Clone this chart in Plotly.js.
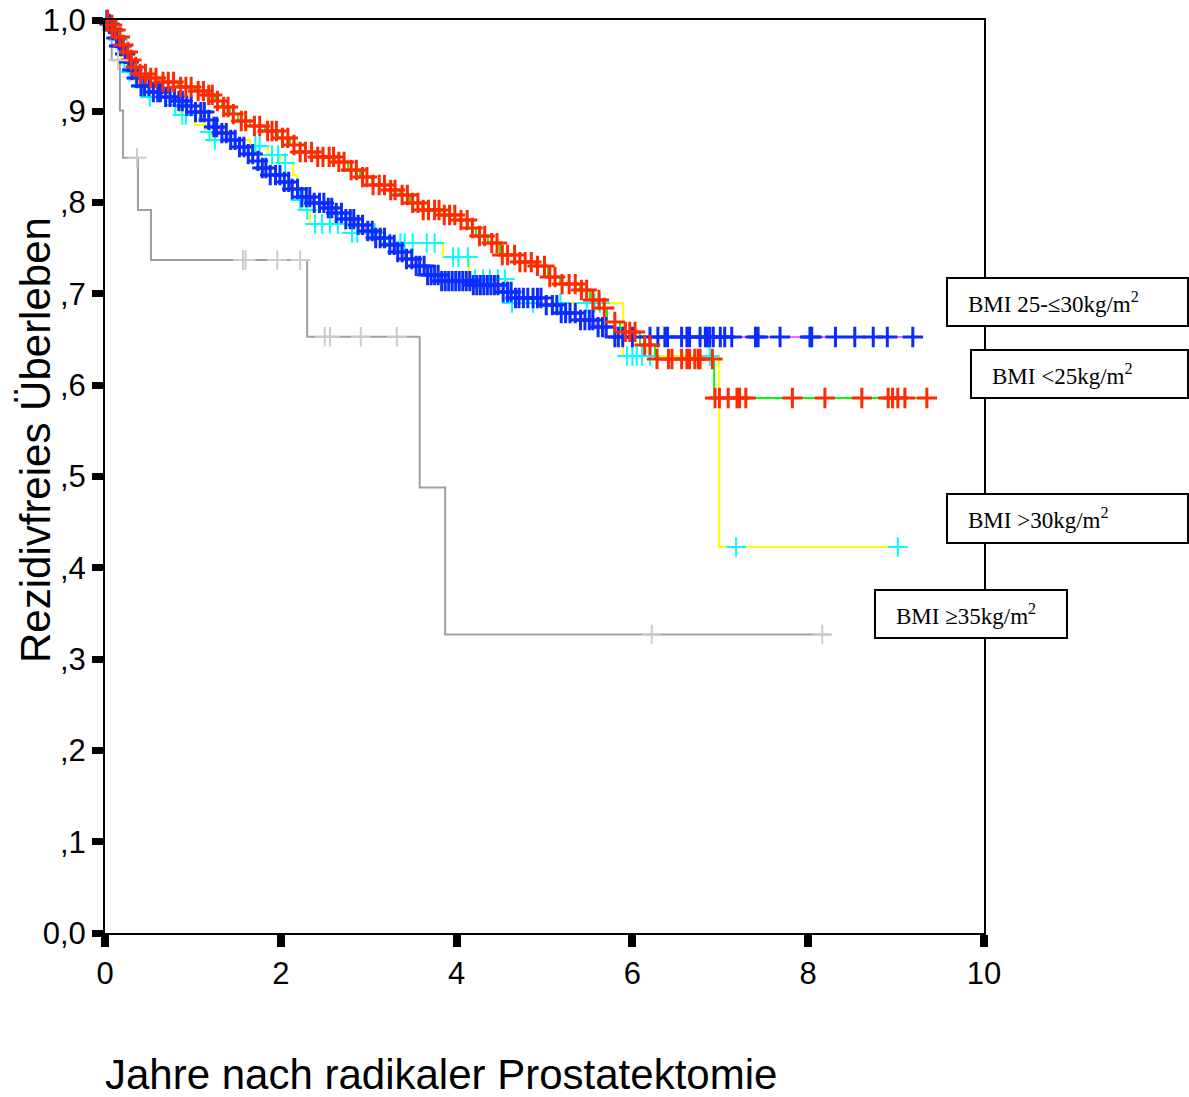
<!DOCTYPE html>
<html><head><meta charset="utf-8">
<script src="https://cdn.plot.ly/plotly-3.0.1.min.js"></script>
<style>html,body{margin:0;padding:0;background:#fff}#chart{width:1189px;height:1097px}</style>
</head><body><div id="chart"></div>
<script>
// ---------- DATA ----------
const groupNames = ["BMI <25kg/m²", "BMI 25-≤30kg/m²", "BMI >30kg/m²", "BMI ≥35kg/m²"];

// BMI <25
const lt25Times = [0.046,0.091,0.137,0.182,0.228,0.273,0.319,0.375,0.489,0.648,0.830,1.024,1.160,1.251,1.331,1.422,1.513,1.650,1.820,1.968,2.105,2.218,2.389,2.617,2.764,2.901,3.038,3.185,3.356,3.470,3.606,3.811,4.039,4.130,4.221,4.357,4.494,4.664,4.892,5.040,5.176,5.404,5.518,5.631,5.711,5.859,6.086,6.257,6.930];
const lt25Surv = [0.9945,0.9890,0.9814,0.9726,0.9650,0.9562,0.9485,0.9409,0.9365,0.9321,0.9266,0.9222,0.9179,0.9113,0.9047,0.8970,0.8894,0.8839,0.8784,0.8708,0.8631,0.8554,0.8500,0.8445,0.8357,0.8280,0.8193,0.8138,0.8083,0.7996,0.7919,0.7864,0.7809,0.7722,0.7634,0.7557,0.7426,0.7349,0.7306,0.7185,0.7108,0.7043,0.6933,0.6846,0.6692,0.6583,0.6440,0.6287,0.5860];
const lt25Censor = [0.03,0.08,0.12,0.17,0.21,0.26,0.30,0.35,0.40,0.46,0.52,0.58,0.66,0.72,0.78,0.86,0.92,0.98,1.06,1.12,1.18,1.22,1.28,1.35,1.40,1.46,1.55,1.60,1.70,1.76,1.85,1.90,1.95,2.02,2.08,2.15,2.22,2.28,2.35,2.42,2.48,2.55,2.60,2.66,2.72,2.80,2.86,2.93,2.98,3.05,3.12,3.18,3.25,3.30,3.38,3.44,3.50,3.56,3.62,3.68,3.75,3.80,3.86,3.92,3.98,4.05,4.12,4.18,4.26,4.32,4.40,4.46,4.52,4.58,4.66,4.72,4.78,4.85,4.92,5.00,5.06,5.12,5.20,5.28,5.35,5.42,5.48,5.55,5.62,5.68,5.80,5.92,5.97,6.03,6.14,6.20,6.28,6.41,6.45,6.56,6.62,6.65,6.71,6.75,6.77,6.91,6.94,6.99,7.09,7.19,7.22,7.29,7.82,8.19,8.61,8.91,8.96,9.02,9.10,9.35];
const lt25End = 9.38;

// BMI 25-<=30
const mid25Times = [0.023,0.068,0.114,0.159,0.205,0.250,0.296,0.341,0.398,0.512,0.648,0.796,0.910,1.024,1.138,1.229,1.308,1.399,1.490,1.593,1.684,1.786,1.877,1.991,2.105,2.218,2.355,2.503,2.617,2.730,2.844,2.958,3.072,3.185,3.299,3.413,3.527,3.641,3.811,4.152,4.494,4.664,5.006,5.176,5.404,5.574,5.711];
const mid25Surv = [0.9956,0.9890,0.9803,0.9715,0.9628,0.9540,0.9452,0.9365,0.9277,0.9211,0.9157,0.9113,0.9058,0.8992,0.8905,0.8828,0.8762,0.8687,0.8609,0.8532,0.8456,0.8379,0.8302,0.8226,0.8149,0.8061,0.7996,0.7941,0.7886,0.7820,0.7755,0.7689,0.7612,0.7536,0.7459,0.7382,0.7306,0.7207,0.7141,0.7097,0.7021,0.6955,0.6878,0.6791,0.6714,0.6637,0.6528];
const mid25Censor = [0.02,0.05,0.09,0.13,0.16,0.19,0.23,0.27,0.31,0.36,0.41,0.45,0.50,0.55,0.60,0.63,0.69,0.74,0.79,0.84,0.88,0.93,0.98,1.03,1.09,1.13,1.18,1.24,1.27,1.33,1.38,1.43,1.48,1.53,1.58,1.63,1.68,1.74,1.79,1.83,1.88,1.94,1.99,2.04,2.09,2.13,2.19,2.24,2.29,2.33,2.38,2.44,2.49,2.54,2.58,2.63,2.69,2.74,2.79,2.83,2.88,2.93,2.99,3.04,3.08,3.13,3.18,3.24,3.29,3.33,3.38,3.43,3.49,3.54,3.58,3.63,3.67,3.71,3.75,3.79,3.83,3.87,3.91,3.95,3.99,4.03,4.07,4.11,4.15,4.19,4.23,4.27,4.31,4.35,4.39,4.43,4.47,4.53,4.58,4.62,4.67,4.71,4.76,4.81,4.87,4.92,4.96,5.02,5.09,5.14,5.19,5.24,5.29,5.35,5.41,5.46,5.51,5.55,5.61,5.66,5.70,5.80,5.84,5.89,6.00,6.20,6.29,6.37,6.40,6.56,6.62,6.65,6.77,6.83,6.85,6.88,6.92,7.00,7.05,7.13,7.40,7.43,7.68,8.02,8.04,8.31,8.53,8.74,8.90,9.19];
const mid25End = 9.31;

// BMI >30
const gt30Times = [0.057,0.125,0.182,0.250,0.341,0.455,0.683,0.853,1.024,1.138,1.217,1.650,1.854,1.991,2.139,2.184,2.241,2.332,2.730,3.174,3.845,4.141,4.573,5.893,6.985];
const gt30Surv = [0.9912,0.9781,0.9562,0.9430,0.9288,0.9157,0.9069,0.8959,0.8850,0.8773,0.8687,0.8620,0.8521,0.8434,0.8302,0.8028,0.7919,0.7766,0.7667,0.7557,0.7404,0.7163,0.6900,0.6320,0.4228];
const gt30Censor = [0.03,0.08,0.15,0.22,0.28,0.42,0.51,0.80,0.88,0.92,1.19,1.25,1.71,1.76,1.90,1.97,2.05,2.22,2.30,2.39,2.47,2.56,2.65,2.81,2.87,3.07,3.24,3.36,3.41,3.50,3.66,3.75,3.96,4.02,4.13,4.21,4.30,4.38,4.47,4.55,4.63,4.87,5.18,5.48,5.57,5.63,5.94,6.00,6.05,6.11,6.20,6.88,7.18,9.02];
const gt30End = 9.10;

// BMI >=35
const ge35Times = [0.076,0.170,0.205,0.375,0.523,2.30,3.58,3.87];
const ge35Surv = [0.956,0.901,0.849,0.792,0.737,0.653,0.488,0.327];
const ge35Censor = [0.148,0.364,1.57,1.60,1.96,2.22,2.50,2.56,2.91,3.32,6.22,8.16];
const ge35End = 8.25;

// axis ticks
const xTicks = [0, 2, 4, 6, 8, 10];
const yTicks = [0, 0.1, 0.2, 0.3, 0.4, 0.5, 0.6, 0.7, 0.8, 0.9, 1.0];
const yTickText = ["0,0", ",1", ",2", ",3", ",4", ",5", ",6", ",7", ",8", ",9", "1,0"];

// ---------- helpers ----------
function stepLine(times, surv, end) {
  const x = [0], y = [1];
  for (let i = 0; i < times.length; i++) { x.push(times[i]); y.push(surv[i]); }
  x.push(end); y.push(surv[surv.length - 1]);
  return {x, y};
}
function survAt(times, surv, t) {
  let s = 1;
  for (let i = 0; i < times.length; i++) { if (times[i] <= t) s = surv[i]; }
  return s;
}
function lineTrace(times, surv, end, color, name) {
  const d = stepLine(times, surv, end);
  return {type: 'scatter', mode: 'lines', x: d.x, y: d.y, name: name,
    line: {shape: 'hv', color: color, width: 2}, hoverinfo: 'skip', cliponaxis: false, showlegend: false};
}
function censorTrace(times, surv, censor, color, name, lw, sz) {
  return {type: 'scatter', mode: 'markers', x: censor, y: censor.map(t => survAt(times, surv, t)), name: name,
    marker: {symbol: 'cross-thin', size: sz, line: {color: color, width: lw}},
    cliponaxis: false, showlegend: false};
}

const data = [
  lineTrace(ge35Times, ge35Surv, ge35End, '#a0a0a0', groupNames[3]),
  lineTrace(gt30Times, gt30Surv, gt30End, '#ffff00', groupNames[2]),
  lineTrace(mid25Times, mid25Surv, mid25End, '#ff66ff', groupNames[1]),
  lineTrace(lt25Times, lt25Surv, lt25End, '#00ff00', groupNames[0]),
  censorTrace(gt30Times, gt30Surv, gt30Censor, '#00ffff', groupNames[2], 2, 14),
  censorTrace(mid25Times, mid25Surv, mid25Censor, '#0a2cff', groupNames[1], 3, 14.5),
  censorTrace(lt25Times, lt25Surv, lt25Censor, '#ff2a00', groupNames[0], 3, 14.5),
  censorTrace(ge35Times, ge35Surv, ge35Censor, '#cccccc', groupNames[3], 2, 14)
];

// ---------- layout ----------
const W = 1189, H = 1097, L = 105, R = 984, T = 20, B = 933;
const px = v => (v - L) / (R - L);
const py = v => (B - v) / (B - T);

const boxes = [
  {text: 'BMI 25-≤30kg/m<sup>2</sup>', x0: 947, x1: 1188, y0: 278, y1: 326},
  {text: 'BMI &lt;25kg/m<sup>2</sup>', x0: 971, x1: 1188, y0: 350, y1: 398},
  {text: 'BMI &gt;30kg/m<sup>2</sup>', x0: 947, x1: 1188, y0: 494, y1: 543},
  {text: 'BMI ≥35kg/m<sup>2</sup>', x0: 875, x1: 1067, y0: 590, y1: 638}
];
const shapes = boxes.map(b => ({type: 'rect', xref: 'paper', yref: 'paper',
  x0: px(b.x0), x1: px(b.x1), y0: py(b.y1), y1: py(b.y0),
  fillcolor: '#ffffff', line: {color: '#000000', width: 2}, layer: 'above'}));
const annotations = boxes.map(b => ({xref: 'paper', yref: 'paper', x: px(b.x0 + 19), y: py((b.y0 + b.y1) / 2),
  xanchor: 'left', yanchor: 'middle', showarrow: false, text: b.text,
  font: {family: 'Liberation Serif, Times New Roman, serif', size: 23, color: '#000'}}));

annotations.push({xref: 'paper', yref: 'paper', x: px(35), y: py(440), xanchor: 'center', yanchor: 'middle',
  textangle: -90, showarrow: false, text: 'Rezidivfreies Überleben',
  font: {family: 'Liberation Sans, Arial, sans-serif', size: 42, color: '#000'}});
annotations.push({xref: 'paper', yref: 'paper', x: px(103), y: py(1074), xanchor: 'left', yanchor: 'middle',
  showarrow: false, text: 'Jahre nach radikaler Prostatektomie',
  font: {family: 'Liberation Sans, Arial, sans-serif', size: 42, color: '#000'}});

const layout = {
  width: W, height: H,
  margin: {l: L, r: W - R, t: T, b: H - B, pad: 0},
  paper_bgcolor: '#ffffff', plot_bgcolor: '#ffffff',
  showlegend: false,
  font: {family: 'Liberation Sans, Arial, sans-serif', color: '#000'},
  xaxis: {range: [0, 10], tickvals: xTicks, ticktext: xTicks.map(String), ticks: 'outside', ticklen: 12, tickwidth: 8,
    tickcolor: '#000', showline: true, linecolor: '#000', linewidth: 2, mirror: true, showgrid: false, zeroline: false,
    tickfont: {size: 31, color: '#000'}, fixedrange: true},
  yaxis: {range: [0, 1], tickvals: yTicks, ticktext: yTickText, ticks: 'outside', ticklen: 11, tickwidth: 7,
    tickcolor: '#000', showline: true, linecolor: '#000', linewidth: 2, mirror: true, showgrid: false, zeroline: false,
    tickfont: {size: 31, color: '#000'}, fixedrange: true},
  shapes: shapes,
  annotations: annotations
};

Plotly.newPlot('chart', data, layout, {displayModeBar: false, staticPlot: true});
</script>
</body></html>
